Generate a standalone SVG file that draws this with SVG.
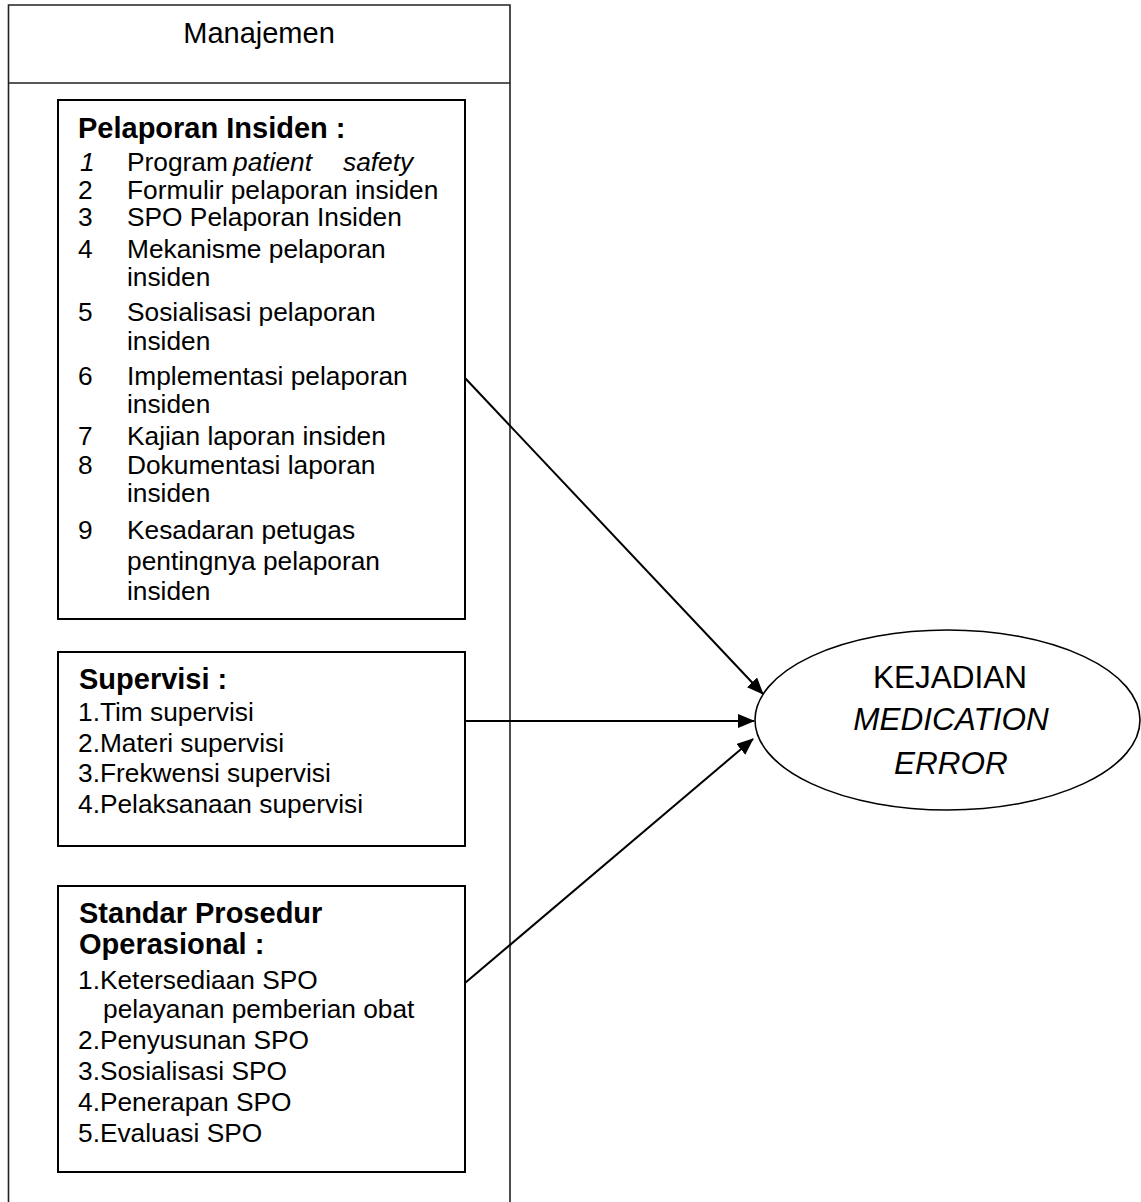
<svg xmlns="http://www.w3.org/2000/svg" width="1141" height="1202" viewBox="0 0 1141 1202">
<style>
text{font-family:"Liberation Sans",Arial,sans-serif;fill:#000}
.t{font-size:26.3px}
.h{font-size:29px;font-weight:bold}
.i{font-style:italic}
.box{fill:none;stroke:#000;stroke-width:2}
.outer{fill:none;stroke:#222;stroke-width:1.6}
.con{stroke:#000;stroke-width:2;fill:none;marker-end:url(#ah)}
</style>
<defs>
<marker id="ah" markerUnits="userSpaceOnUse" markerWidth="18" markerHeight="14" refX="16" refY="7" orient="auto">
<path d="M0,0 L17,7 L0,14 z" fill="#000"/>
</marker>
</defs>
<rect width="1141" height="1202" fill="#fff"/>
<g id="manajemen">
<path class="outer" d="M8.5,1202 V5 H510 V1202 M8.5,83 H510"/>
<text x="259" y="43" font-size="29" text-anchor="middle">Manajemen</text>
</g>
<g id="pelaporan">
<rect class="box" x="58" y="100" width="407" height="519"/>
<text class="h" x="78" y="138">Pelaporan Insiden :</text>
<g class="t">
<text x="80" y="171" class="i">1</text><text y="171"><tspan x="127">Program</tspan><tspan x="233" class="i">patient</tspan><tspan x="343" class="i">safety</tspan></text>
<text x="78" y="199">2</text><text x="127" y="199">Formulir pelaporan insiden</text>
<text x="78" y="226">3</text><text x="127" y="226">SPO Pelaporan Insiden</text>
<text x="78" y="258">4</text><text x="127" y="258">Mekanisme pelaporan</text>
<text x="127" y="286">insiden</text>
<text x="78" y="321">5</text><text x="127" y="321">Sosialisasi pelaporan</text>
<text x="127" y="350">insiden</text>
<text x="78" y="385">6</text><text x="127" y="385">Implementasi pelaporan</text>
<text x="127" y="413">insiden</text>
<text x="78" y="445">7</text><text x="127" y="445">Kajian laporan insiden</text>
<text x="78" y="474">8</text><text x="127" y="474">Dokumentasi laporan</text>
<text x="127" y="502">insiden</text>
<text x="78" y="539">9</text><text x="127" y="539">Kesadaran petugas</text>
<text x="127" y="570">pentingnya pelaporan</text>
<text x="127" y="600">insiden</text>
</g>
</g>
<g id="supervisi">
<rect class="box" x="58" y="652" width="407" height="194"/>
<text class="h" x="79" y="689">Supervisi :</text>
<g class="t">
<text x="78" y="721">1.Tim supervisi</text>
<text x="78" y="752">2.Materi supervisi</text>
<text x="78" y="782">3.Frekwensi supervisi</text>
<text x="78" y="813">4.Pelaksanaan supervisi</text>
</g>
</g>
<g id="spo">
<rect class="box" x="58" y="886" width="407" height="286"/>
<text class="h" x="79" y="923">Standar Prosedur</text>
<text class="h" x="79" y="954">Operasional :</text>
<g class="t">
<text x="78" y="989">1.Ketersediaan SPO</text>
<text x="103" y="1018">pelayanan pemberian obat</text>
<text x="78" y="1049">2.Penyusunan SPO</text>
<text x="78" y="1080">3.Sosialisasi SPO</text>
<text x="78" y="1111">4.Penerapan SPO</text>
<text x="78" y="1142">5.Evaluasi SPO</text>
</g>
</g>
<g id="kejadian">
<ellipse cx="947.5" cy="720" rx="192.5" ry="90" fill="#fff" stroke="#000" stroke-width="1.6"/>
<text x="950" y="688" font-size="31.5" text-anchor="middle">KEJADIAN</text>
<text x="951" y="730" font-size="31.5" text-anchor="middle" class="i">MEDICATION</text>
<text x="951" y="774" font-size="31.5" text-anchor="middle" class="i">ERROR</text>
</g>
<g id="connectors">
<path class="con" d="M465,378 L763,694"/>
<path class="con" d="M465,721 L754,721"/>
<path class="con" d="M465,983 L753,739"/>
</g>
</svg>
